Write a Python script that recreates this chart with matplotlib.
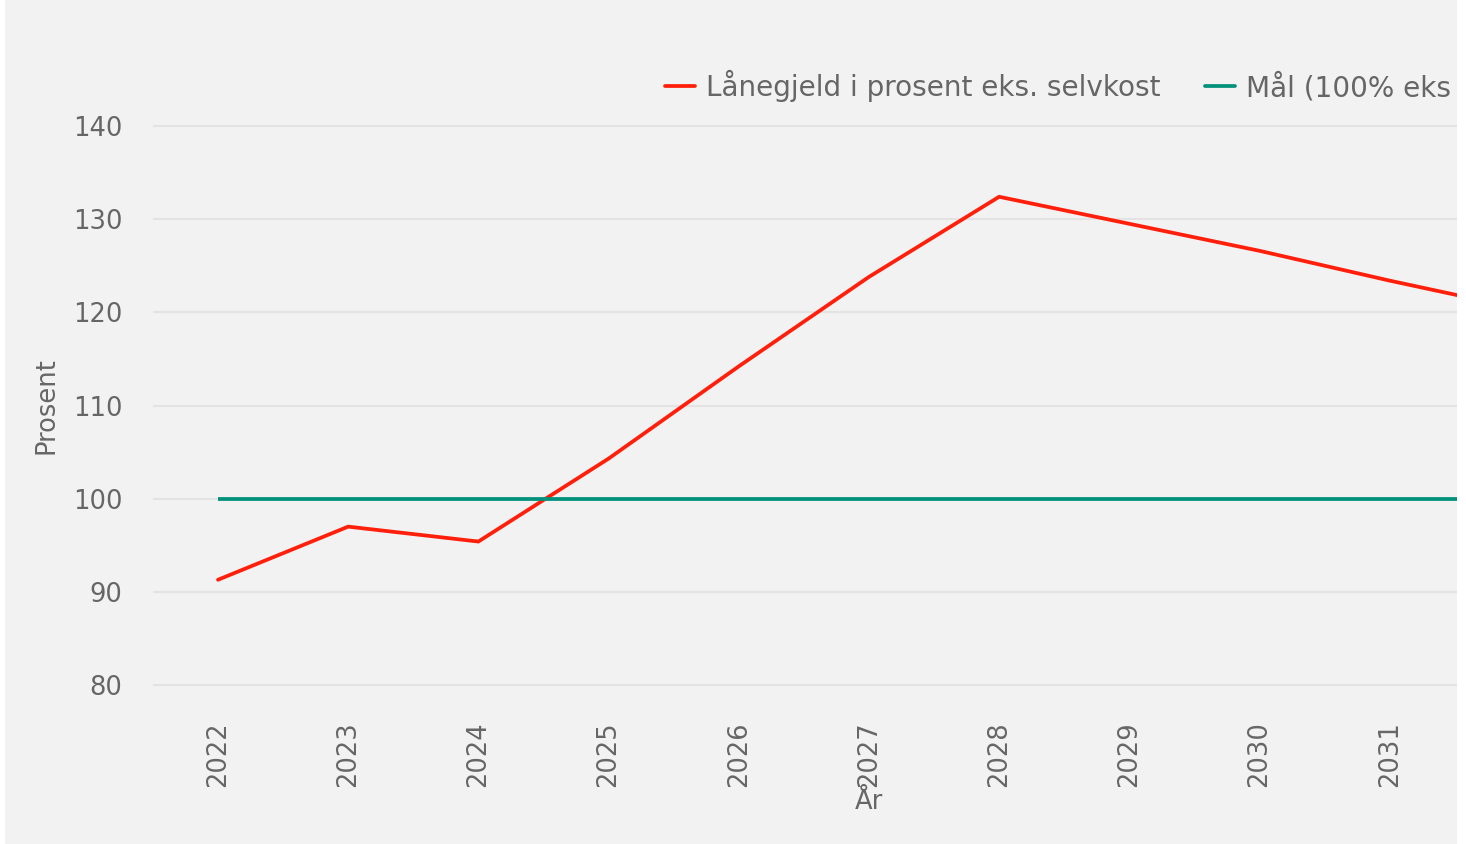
import matplotlib
matplotlib.use("Agg")
import matplotlib.pyplot as plt
from matplotlib.patches import Rectangle
from matplotlib.transforms import Bbox

# Data
years = [2022, 2023, 2024, 2025, 2026, 2027, 2028, 2029, 2030, 2031, 2032]
laanegjeld = [91.3, 97.0, 95.4, 104.3, 114.2, 123.8, 132.4, 129.5, 126.6, 123.4, 120.4]
maal = [100, 100, 100, 100, 100, 100, 100, 100, 100, 100, 100]
yticks = [80, 90, 100, 110, 120, 130, 140]
series_labels = ["Lånegjeld i prosent eks. selvkost", "Mål (100% eks. selvkost)"]

W, H = 1466, 844
DPI = 100
BG = "#f2f2f2"
TXT = "#666666"
RED = "#ff1f0a"
GREEN = "#00917a"
FS = 18.5
LFS = 20.1

plt.rcParams["font.family"] = ["DejaVu Sans"]

fig = plt.figure(figsize=(W / DPI, H / DPI), dpi=DPI, facecolor="white")
# gray panel
fig.add_artist(Rectangle((5 / W, 0), (1457 - 5) / W, 1, transform=fig.transFigure,
                         facecolor=BG, edgecolor="none", zorder=-1))

# axes geometry (extends beyond the right edge, like the clipped original)
left_px, right_px = 152.9, 1585.0
top_px, bottom_px = 98.0, 713.0
ax = fig.add_axes([left_px / W, (H - bottom_px) / H,
                   (right_px - left_px) / W, (bottom_px - top_px) / H])
ax.set_facecolor("none")

ax.plot(years, laanegjeld, color=RED, lw=2.7, solid_capstyle="round",
        solid_joinstyle="miter", label=series_labels[0], zorder=3)
ax.plot(years, maal, color=GREEN, lw=2.7, solid_capstyle="butt",
        label=series_labels[1], zorder=3)

ax.set_xlim(2021.5, 2032.5)
ax.set_ylim(77, 143)
ax.set_xticks(years)
ax.set_xticklabels([str(y) for y in years], rotation=90)
ax.set_yticks(yticks)
ax.set_yticklabels([str(v) for v in yticks])

ax.grid(axis="y", color="#e3e3e3", lw=1.5)
ax.grid(axis="x", visible=False)
ax.set_axisbelow(True)
for s in ax.spines.values():
    s.set_visible(False)
ax.tick_params(axis="both", length=0, labelsize=FS, labelcolor=TXT)
ax.tick_params(axis="x", pad=6)
ax.tick_params(axis="y", pad=22)

ax.set_xlabel("År", fontsize=FS, color=TXT, labelpad=1)
ax.set_ylabel("Prosent", fontsize=FS, color=TXT, labelpad=9.5)

leg = ax.legend(loc="center left", bbox_to_anchor=(665 / W, 1 - 86 / H),
                bbox_transform=fig.transFigure, ncol=2, frameon=False,
                fontsize=LFS, labelcolor=TXT, handlelength=1.08,
                handletextpad=0.4, columnspacing=1.58, borderpad=0,
                borderaxespad=0)
for h in leg.get_lines():
    h.set_linewidth(2.7)
    h.set_solid_capstyle("round")
# the legend of the original is cut just after "eks"
clip = Bbox.from_extents(0, 0, 1452, H)
for t in leg.get_texts():
    t.set_clip_box(clip)
    t.set_clip_on(True)

# white strip on the right that clips the chart
fig.add_artist(Rectangle((1457 / W, 0), (W - 1457) / W, 1, transform=fig.transFigure,
                         facecolor="white", edgecolor="none", zorder=10))

fig.savefig("out.png", dpi=DPI, facecolor=fig.get_facecolor())
